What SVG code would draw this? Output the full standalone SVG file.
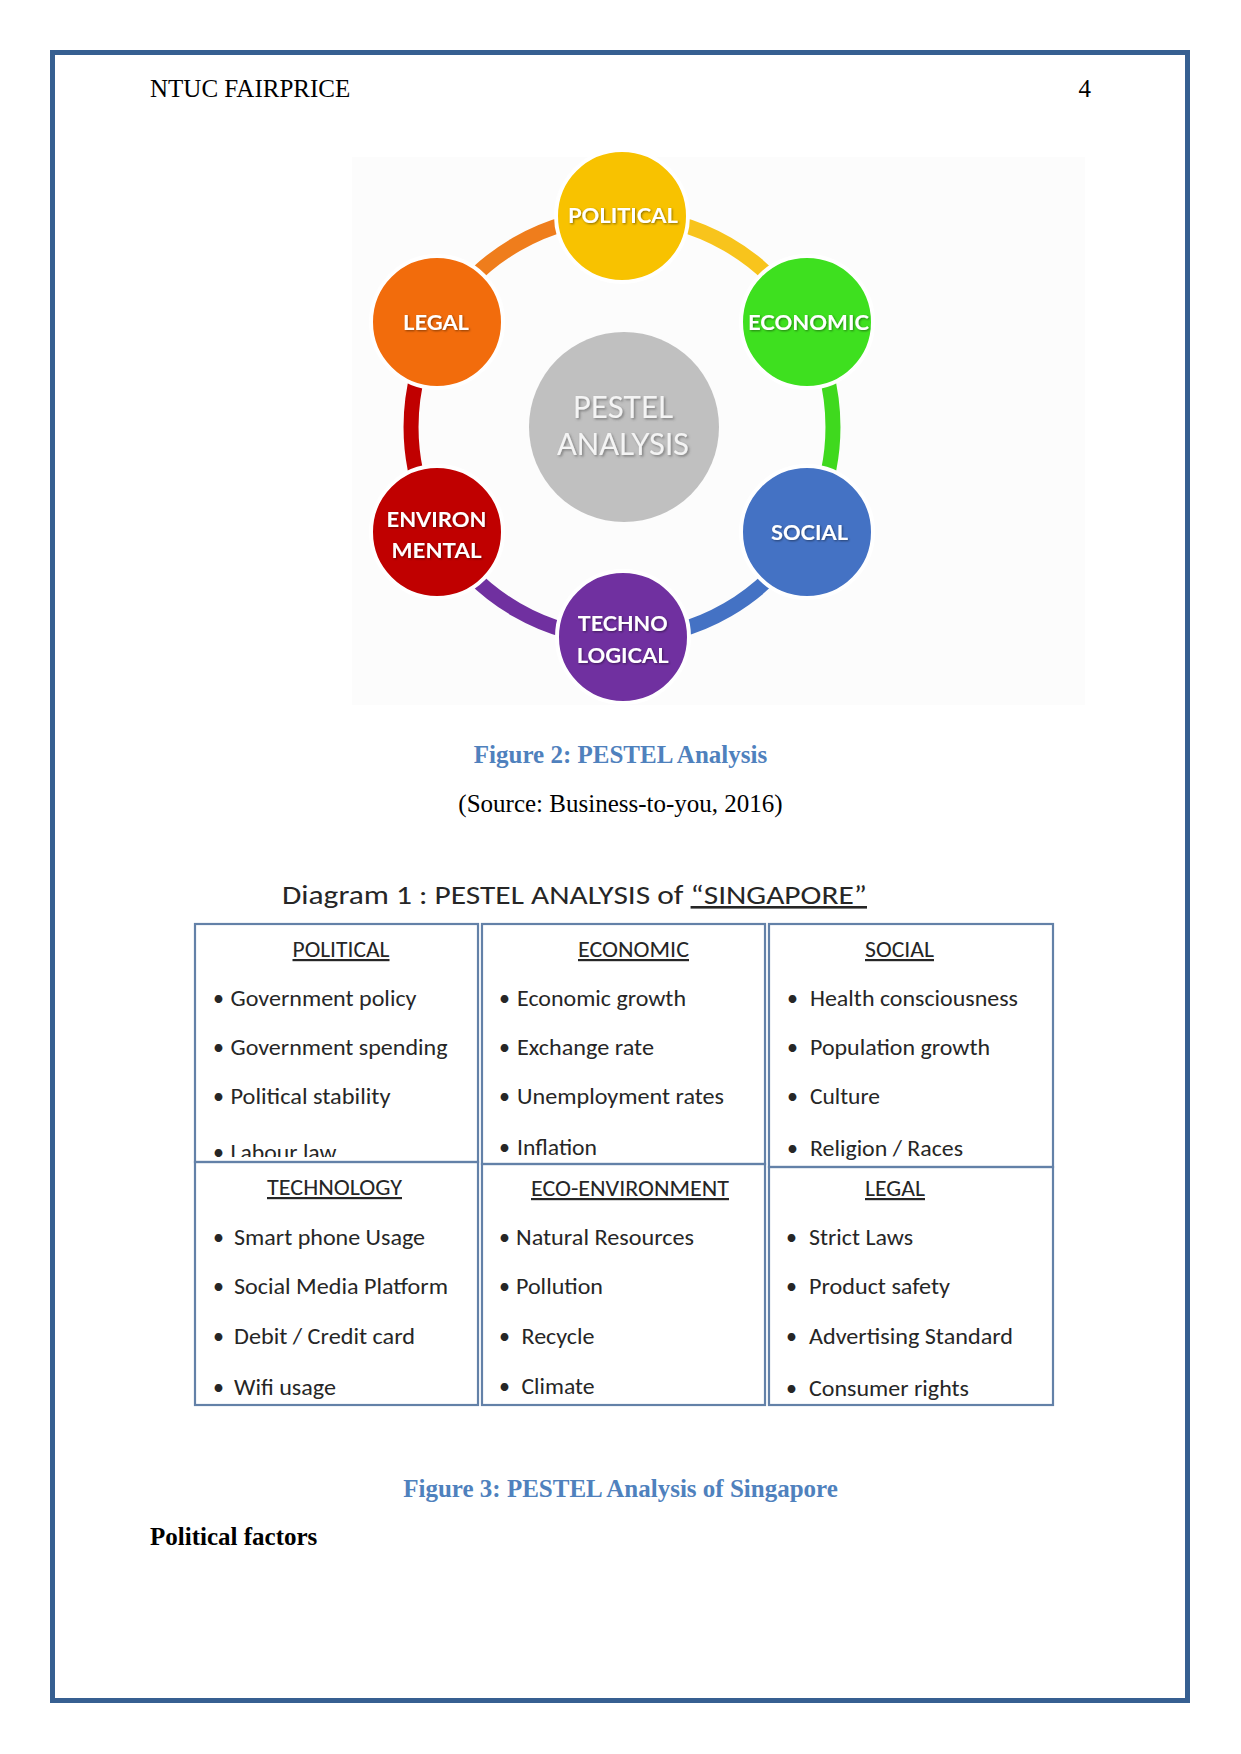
<svg xmlns="http://www.w3.org/2000/svg" width="1241" height="1754" viewBox="0 0 1241 1754">
<style>
.serif{font-family:"Liberation Serif","Times New Roman",serif;}
.cap{font-family:"Liberation Serif","Times New Roman",serif;font-weight:bold;font-size:25px;fill:#4f81bd;text-anchor:middle;}
.lbl{font-family:Lato,"Liberation Sans",sans-serif;font-weight:bold;font-size:20px;fill:#ffffff;text-anchor:middle;filter:url(#sh);}
.mid{font-family:Lato,"Liberation Sans",sans-serif;font-size:30px;fill:#f4f4f4;text-anchor:middle;filter:url(#sh2);}
.ring{fill:none;stroke-width:15;stroke-linecap:butt;}
.node{stroke:#ffffff;stroke-width:4;}
.cell{fill:none;stroke:#6381a8;stroke-width:2.2;}
.t{font-family:Carlito,Lato,"Liberation Sans",sans-serif;font-size:22px;fill:#262626;}
.h{font-family:Carlito,Lato,"Liberation Sans",sans-serif;font-size:22px;fill:#262626;text-anchor:middle;text-decoration:underline;}
</style>
<defs>
<filter id="sh" x="-20%" y="-40%" width="140%" height="180%"><feDropShadow dx="1" dy="1" stdDeviation="0.8" flood-color="#000" flood-opacity="0.45"/></filter>
<filter id="sh2" x="-20%" y="-40%" width="140%" height="180%"><feDropShadow dx="1.5" dy="1.5" stdDeviation="1" flood-color="#555" flood-opacity="0.6"/></filter>
<clipPath id="cA"><rect x="196" y="925" width="281" height="232"/></clipPath>
<clipPath id="cB"><rect x="483" y="925" width="281" height="238"/></clipPath>
<clipPath id="cC"><rect x="770" y="925" width="282" height="241"/></clipPath>
<clipPath id="cD"><rect x="196" y="1163" width="281" height="241"/></clipPath>
<clipPath id="cE"><rect x="483" y="1165" width="281" height="239"/></clipPath>
<clipPath id="cF"><rect x="770" y="1168" width="282" height="236"/></clipPath>
</defs>
<rect x="0" y="0" width="1241" height="1754" fill="#ffffff"/>
<rect id="page-border" x="52.5" y="52.5" width="1135" height="1648" fill="none" stroke="#365f91" stroke-width="5"/>
<text class="serif" x="150" y="97" font-size="25" fill="#000">NTUC FAIRPRICE</text>
<text class="serif" x="1091" y="97" font-size="25" fill="#000" text-anchor="end">4</text>

<!-- Figure 2 -->
<rect x="352" y="157" width="733" height="548" fill="#fcfcfc"/>
<g id="connectors">
<path class="ring" stroke="#ef7d1c" d="M439.3,321.5 A211,211 0 0 1 622,216"/>
<path class="ring" stroke="#f8c41c" d="M622,216 A211,211 0 0 1 804.7,321.5"/>
<path class="ring" stroke="#3fd91e" d="M804.7,321.5 A211,211 0 0 1 804.7,532.5"/>
<path class="ring" stroke="#4472c4" d="M804.7,532.5 A211,211 0 0 1 622,638"/>
<path class="ring" stroke="#7030a0" d="M622,638 A211,211 0 0 1 439.3,532.5"/>
<path class="ring" stroke="#c00000" d="M439.3,532.5 A211,211 0 0 1 439.3,321.5"/>
</g>
<g id="center">
<circle cx="624" cy="427" r="95" fill="#c0c0c0"/>
<text class="mid" x="623" y="418" textLength="100" lengthAdjust="spacingAndGlyphs">PESTEL</text>
<text class="mid" x="623" y="455" textLength="132" lengthAdjust="spacingAndGlyphs">ANALYSIS</text>
</g>
<g id="political"><circle class="node" cx="622" cy="216" r="66" fill="#f8c200"/><text class="lbl" x="623" y="223" textLength="110" lengthAdjust="spacingAndGlyphs">POLITICAL</text></g>
<g id="economic"><circle class="node" cx="807" cy="322" r="66" fill="#3ee01f"/><text class="lbl" x="808.5" y="330" textLength="121" lengthAdjust="spacingAndGlyphs">ECONOMIC</text></g>
<g id="social"><circle class="node" cx="807" cy="532" r="66" fill="#4472c4"/><text class="lbl" x="809.5" y="540" textLength="77" lengthAdjust="spacingAndGlyphs">SOCIAL</text></g>
<g id="technological"><circle class="node" cx="623" cy="637" r="66" fill="#7030a0"/><text class="lbl" x="622.7" y="631" textLength="90" lengthAdjust="spacingAndGlyphs">TECHNO</text><text class="lbl" x="622.7" y="663" textLength="92" lengthAdjust="spacingAndGlyphs">LOGICAL</text></g>
<g id="environmental"><circle class="node" cx="437" cy="532" r="66" fill="#c00000"/><text class="lbl" x="436.5" y="527" textLength="100" lengthAdjust="spacingAndGlyphs">ENVIRON</text><text class="lbl" x="436.5" y="558" textLength="90" lengthAdjust="spacingAndGlyphs">MENTAL</text></g>
<g id="legal"><circle class="node" cx="437" cy="322" r="66" fill="#f26c0c"/><text class="lbl" x="436" y="330" textLength="66" lengthAdjust="spacingAndGlyphs">LEGAL</text></g>

<text class="cap" x="620.5" y="763">Figure 2: PESTEL Analysis</text>
<text class="serif" x="620.5" y="812" font-size="25" fill="#000" text-anchor="middle">(Source: Business-to-you, 2016)</text>

<!-- Figure 3 table -->
<text x="282" y="904" font-family="Carlito,Lato,'Liberation Sans',sans-serif" font-size="26" fill="#262626" textLength="585" lengthAdjust="spacingAndGlyphs">Diagram 1 : PESTEL ANALYSIS of <tspan text-decoration="underline">“SINGAPORE”</tspan></text>

<g id="cell-political">
<rect class="cell" x="195" y="924" width="283" height="238"/>
<g clip-path="url(#cA)">
<text class="h" x="341" y="957" textLength="97" lengthAdjust="spacingAndGlyphs">POLITICAL</text>
<text class="t" x="213" y="1006">•</text><text class="t" x="230.5" y="1006" textLength="186" lengthAdjust="spacingAndGlyphs">Government policy</text>
<text class="t" x="213" y="1055">•</text><text class="t" x="230.5" y="1055" textLength="217" lengthAdjust="spacingAndGlyphs">Government spending</text>
<text class="t" x="213" y="1104">•</text><text class="t" x="230.5" y="1104" textLength="160" lengthAdjust="spacingAndGlyphs">Political stability</text>
<text class="t" x="213" y="1160">•</text><text class="t" x="230.5" y="1160" textLength="106" lengthAdjust="spacingAndGlyphs">Labour law</text>
</g>
</g>
<g id="cell-economic">
<rect class="cell" x="482" y="924" width="283" height="240"/>
<g clip-path="url(#cB)">
<text class="h" x="633.5" y="957" textLength="111" lengthAdjust="spacingAndGlyphs">ECONOMIC</text>
<text class="t" x="499" y="1006">•</text><text class="t" x="517" y="1006" textLength="169" lengthAdjust="spacingAndGlyphs">Economic growth</text>
<text class="t" x="499" y="1055">•</text><text class="t" x="517" y="1055" textLength="137" lengthAdjust="spacingAndGlyphs">Exchange rate</text>
<text class="t" x="499" y="1104">•</text><text class="t" x="517" y="1104" textLength="207" lengthAdjust="spacingAndGlyphs">Unemployment rates</text>
<text class="t" x="499" y="1155">•</text><text class="t" x="517" y="1155" textLength="80" lengthAdjust="spacingAndGlyphs">Inflation</text>
</g>
</g>
<g id="cell-social">
<rect class="cell" x="769" y="924" width="284" height="243"/>
<g clip-path="url(#cC)">
<text class="h" x="899.5" y="957" textLength="69" lengthAdjust="spacingAndGlyphs">SOCIAL</text>
<text class="t" x="787" y="1006">•</text><text class="t" x="810" y="1006" textLength="208" lengthAdjust="spacingAndGlyphs">Health consciousness</text>
<text class="t" x="787" y="1055">•</text><text class="t" x="810" y="1055" textLength="180" lengthAdjust="spacingAndGlyphs">Population growth</text>
<text class="t" x="787" y="1104">•</text><text class="t" x="810" y="1104" textLength="70" lengthAdjust="spacingAndGlyphs">Culture</text>
<text class="t" x="787" y="1156">•</text><text class="t" x="810" y="1156" textLength="153" lengthAdjust="spacingAndGlyphs">Religion / Races</text>
</g>
</g>
<g id="cell-technology">
<rect class="cell" x="195" y="1162" width="283" height="243"/>
<g clip-path="url(#cD)">
<text class="h" x="334.5" y="1195" textLength="135" lengthAdjust="spacingAndGlyphs">TECHNOLOGY</text>
<text class="t" x="213" y="1245">•</text><text class="t" x="234" y="1245" textLength="191" lengthAdjust="spacingAndGlyphs">Smart phone Usage</text>
<text class="t" x="213" y="1294">•</text><text class="t" x="234" y="1294" textLength="214" lengthAdjust="spacingAndGlyphs">Social Media Platform</text>
<text class="t" x="213" y="1344">•</text><text class="t" x="234" y="1344" textLength="181" lengthAdjust="spacingAndGlyphs">Debit / Credit card</text>
<text class="t" x="213" y="1395">•</text><text class="t" x="234" y="1395" textLength="102" lengthAdjust="spacingAndGlyphs">Wifi usage</text>
</g>
</g>
<g id="cell-eco-environment">
<rect class="cell" x="482" y="1164" width="283" height="241"/>
<g clip-path="url(#cE)">
<text class="h" x="630" y="1196" textLength="198" lengthAdjust="spacingAndGlyphs">ECO-ENVIRONMENT</text>
<text class="t" x="499" y="1245">•</text><text class="t" x="516" y="1245" textLength="178" lengthAdjust="spacingAndGlyphs">Natural Resources</text>
<text class="t" x="499" y="1294">•</text><text class="t" x="516" y="1294" textLength="87" lengthAdjust="spacingAndGlyphs">Pollution</text>
<text class="t" x="499" y="1344">•</text><text class="t" x="521.5" y="1344" textLength="73" lengthAdjust="spacingAndGlyphs">Recycle</text>
<text class="t" x="499" y="1394">•</text><text class="t" x="521.5" y="1394" textLength="73" lengthAdjust="spacingAndGlyphs">Climate</text>
</g>
</g>
<g id="cell-legal">
<rect class="cell" x="769" y="1167" width="284" height="238"/>
<g clip-path="url(#cF)">
<text class="h" x="895" y="1196" textLength="60" lengthAdjust="spacingAndGlyphs">LEGAL</text>
<text class="t" x="786" y="1245">•</text><text class="t" x="809" y="1245" textLength="104" lengthAdjust="spacingAndGlyphs">Strict Laws</text>
<text class="t" x="786" y="1294">•</text><text class="t" x="809" y="1294" textLength="141" lengthAdjust="spacingAndGlyphs">Product safety</text>
<text class="t" x="786" y="1344">•</text><text class="t" x="809" y="1344" textLength="204" lengthAdjust="spacingAndGlyphs">Advertising Standard</text>
<text class="t" x="786" y="1396">•</text><text class="t" x="809" y="1396" textLength="160" lengthAdjust="spacingAndGlyphs">Consumer rights</text>
</g>
</g>

<text class="cap" x="620.5" y="1497">Figure 3: PESTEL Analysis of Singapore</text>
<text class="serif" x="150" y="1545" font-size="25" font-weight="bold" fill="#000">Political factors</text>
</svg>
